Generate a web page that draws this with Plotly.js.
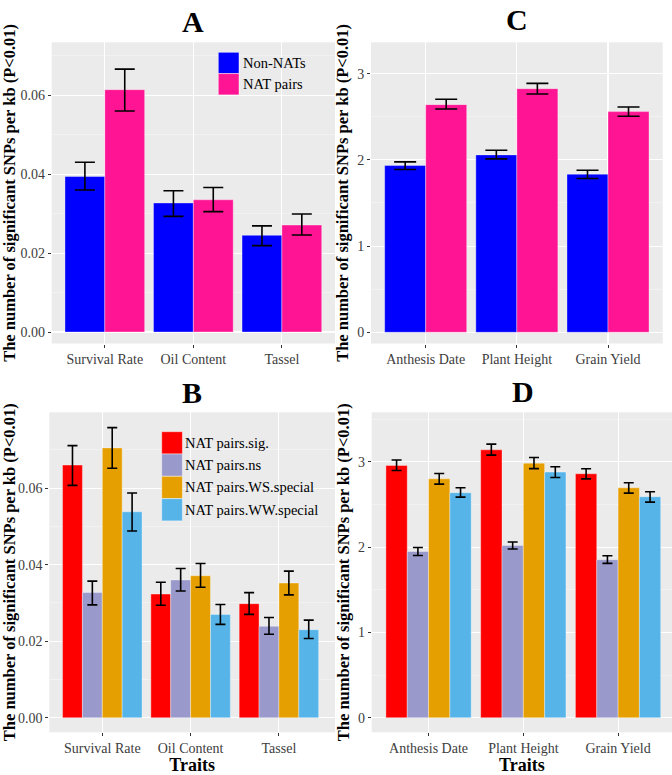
<!DOCTYPE html>
<html>
<head>
<meta charset="utf-8">
<script src="https://cdn.plot.ly/plotly-3.0.1.min.js"></script>
<style>html,body{margin:0;padding:0;background:#fff;}#chart{width:672px;height:775px;}</style>
</head>
<body>
<div id="chart"></div>
<script>
// ---------- data ----------
const traitsAB = ['Survival Rate', 'Oil Content', 'Tassel'];
const traitsCD = ['Anthesis Date', 'Plant Height', 'Grain Yield'];

// Panel A
const A_nonNATs    = [0.0394, 0.0327, 0.0245];
const A_nonNATs_lo = [0.0360, 0.0293, 0.0219];
const A_nonNATs_hi = [0.0430, 0.0358, 0.0269];
const A_natPairs    = [0.0614, 0.0335, 0.0271];
const A_natPairs_lo = [0.0560, 0.0305, 0.0246];
const A_natPairs_hi = [0.0666, 0.0366, 0.0299];

// Panel C
const C_nonNATs    = [1.934, 2.058, 1.834];
const C_nonNATs_lo = [1.888, 2.012, 1.784];
const C_nonNATs_hi = [1.977, 2.112, 1.880];
const C_natPairs    = [2.641, 2.826, 2.560];
const C_natPairs_lo = [2.591, 2.764, 2.506];
const C_natPairs_hi = [2.703, 2.888, 2.614];

// Panel B
const B_sig      = [0.0660, 0.0323, 0.0298];
const B_sig_lo   = [0.0607, 0.0294, 0.0270];
const B_sig_hi   = [0.0711, 0.0354, 0.0327];
const B_ns       = [0.0327, 0.0360, 0.0239];
const B_ns_lo    = [0.0295, 0.0331, 0.0218];
const B_ns_hi    = [0.0357, 0.0390, 0.0262];
const B_ws       = [0.0705, 0.0371, 0.0352];
const B_ws_lo    = [0.0652, 0.0341, 0.0321];
const B_ws_hi    = [0.0758, 0.0403, 0.0383];
const B_ww       = [0.0538, 0.0270, 0.0230];
const B_ww_lo    = [0.0488, 0.0244, 0.0207];
const B_ww_hi    = [0.0587, 0.0296, 0.0255];

// Panel D
const D_sig      = [2.957, 3.140, 2.859];
const D_sig_lo   = [2.898, 3.078, 2.800];
const D_sig_hi   = [3.020, 3.207, 2.918];
const D_ns       = [1.949, 2.020, 1.852];
const D_ns_lo    = [1.902, 1.977, 1.809];
const D_ns_hi    = [1.996, 2.059, 1.898];
const D_ws       = [2.800, 2.984, 2.695];
const D_ws_lo    = [2.738, 2.920, 2.633];
const D_ws_hi    = [2.863, 3.050, 2.754];
const D_ww       = [2.637, 2.879, 2.590];
const D_ww_lo    = [2.586, 2.816, 2.527];
const D_ww_hi    = [2.695, 2.941, 2.648];

const namesAC = ['Non-NATs', 'NAT pairs'];
const colorsAC = ['#0000FF', '#FF1493'];
const namesBD = ['NAT pairs.sig.', 'NAT pairs.ns', 'NAT pairs.WS.special', 'NAT pairs.WW.special'];
const colorsBD = ['#FF0000', '#9999CC', '#E69F00', '#56B4E9'];

const yTitle = 'The number of significant SNPs per kb (P<0.01)';
const xTitle = 'Traits';

// ---------- build ----------
const SERIF = 'Liberation Serif';

function barTrace(x, y, lo, hi, name, color, xa, ya, capw) {
  return {
    type: 'bar', x: x, y: y, name: name, xaxis: xa, yaxis: ya, showlegend: false,
    marker: {color: color, line: {color: 'rgba(255,255,255,0.35)', width: 1}},
    error_y: {
      type: 'data', symmetric: false,
      array: y.map((v, i) => hi[i] - v),
      arrayminus: y.map((v, i) => v - lo[i]),
      color: '#000000', thickness: 1.6, width: capw
    },
    hoverinfo: 'x+y+name'
  };
}

const traces = [
  barTrace(traitsAB, A_nonNATs, A_nonNATs_lo, A_nonNATs_hi, namesAC[0], colorsAC[0], 'x', 'y', 10),
  barTrace(traitsAB, A_natPairs, A_natPairs_lo, A_natPairs_hi, namesAC[1], colorsAC[1], 'x', 'y', 10),
  barTrace(traitsCD, C_nonNATs, C_nonNATs_lo, C_nonNATs_hi, namesAC[0], colorsAC[0], 'x2', 'y2', 11),
  barTrace(traitsCD, C_natPairs, C_natPairs_lo, C_natPairs_hi, namesAC[1], colorsAC[1], 'x2', 'y2', 11),
  barTrace(traitsAB, B_sig, B_sig_lo, B_sig_hi, namesBD[0], colorsBD[0], 'x3', 'y3', 5),
  barTrace(traitsAB, B_ns, B_ns_lo, B_ns_hi, namesBD[1], colorsBD[1], 'x3', 'y3', 5),
  barTrace(traitsAB, B_ws, B_ws_lo, B_ws_hi, namesBD[2], colorsBD[2], 'x3', 'y3', 5),
  barTrace(traitsAB, B_ww, B_ww_lo, B_ww_hi, namesBD[3], colorsBD[3], 'x3', 'y3', 5),
  barTrace(traitsCD, D_sig, D_sig_lo, D_sig_hi, namesBD[0], colorsBD[0], 'x4', 'y4', 5),
  barTrace(traitsCD, D_ns, D_ns_lo, D_ns_hi, namesBD[1], colorsBD[1], 'x4', 'y4', 5),
  barTrace(traitsCD, D_ws, D_ws_lo, D_ws_hi, namesBD[2], colorsBD[2], 'x4', 'y4', 5),
  barTrace(traitsCD, D_ww, D_ww_lo, D_ww_hi, namesBD[3], colorsBD[3], 'x4', 'y4', 5)
];

const W = 672, H = 775;
const tickFont = {family: SERIF, size: 14, color: '#3D3D3D'};

function xAxis(dom, anchor, range, title) {
  const ax = {
    domain: dom, anchor: anchor, type: 'category', range: range,
    showgrid: true, gridcolor: '#FFFFFF', gridwidth: 1.1,
    zeroline: false, showline: false,
    ticks: 'outside', ticklen: 3, tickwidth: 1, tickcolor: '#333333',
    tickfont: tickFont, automargin: false, fixedrange: true
  };
  if (title) ax.title = {text: '<b>' + title + '</b>', font: {family: SERIF, size: 18, color: '#000'}, standoff: 2};
  return ax;
}
function yAxis(dom, anchor, range, dtick, minorDtick, fmt) {
  return {
    domain: dom, anchor: anchor, range: range, dtick: dtick, tick0: 0, tickformat: fmt,
    showgrid: true, gridcolor: '#FFFFFF', gridwidth: 1.1,
    minor: {dtick: minorDtick, tick0: 0, showgrid: true, gridcolor: '#F6F6F6', gridwidth: 0.6, ticks: ''},
    zeroline: false, showline: false,
    ticks: 'outside', ticklen: 3, tickwidth: 1, tickcolor: '#333333',
    tickfont: tickFont, automargin: false, fixedrange: true,
    title: {text: '<b>' + yTitle.replace('<', '&lt;') + '</b>', font: {family: SERIF, size: 16.5, color: '#000'}, standoff: 4}
  };
}

const domA = {x: [51.7 / W, 335 / W], y: [1 - 343.5 / H, 1 - 42.3 / H]};
const domC = {x: [371 / W, 662.7 / W], y: [1 - 343.5 / H, 1 - 42.3 / H]};
const domB = {x: [49.3 / W, 335 / W], y: [1 - 732.3 / H, 1 - 412.3 / H]};
const domD = {x: [371.7 / W, 1], y: [1 - 732.3 / H, 1 - 412.3 / H]};

const shapes = [];
const annotations = [];

function panelTitle(txt, dom, ypx) {
  annotations.push({
    text: '<b>' + txt + '</b>', xref: 'paper', yref: 'paper',
    x: (dom.x[0] + dom.x[1]) / 2, y: 1 - ypx / H, xanchor: 'center', yanchor: 'middle',
    showarrow: false, font: {family: SERIF, size: 30, color: '#000'}
  });
}
panelTitle('A', domA, 21);
panelTitle('B', domB, 392);
panelTitle('C', {x: [371 / W, 662.7 / W]}, 20);
panelTitle('D', {x: [371.7 / W, 674.8 / W]}, 391);

// legend keys (drawn inside panels A and B)
function legendBlock(names, colors, x0px, y0px, keyW, keyH, textX) {
  names.forEach((n, i) => {
    const top = y0px + i * keyH;
    shapes.push({
      type: 'rect', xref: 'paper', yref: 'paper', layer: 'above',
      x0: x0px / W, x1: (x0px + keyW) / W, y0: 1 - (top + keyH) / H, y1: 1 - top / H,
      fillcolor: colors[i], line: {color: 'rgba(255,255,255,0.45)', width: 1}
    });
    annotations.push({
      text: n, xref: 'paper', yref: 'paper', x: textX / W, y: 1 - (top + keyH / 2) / H,
      xanchor: 'left', yanchor: 'middle', showarrow: false,
      font: {family: SERIF, size: 14.5, color: '#000'}
    });
  });
}
legendBlock(namesAC, colorsAC, 218.3, 52.3, 20.7, 21.3, 240.5);
legendBlock(namesBD, colorsBD, 161.7, 431.7, 20.7, 22.3, 183.5);

const layout = {
  width: W, height: H,
  margin: {l: 0, r: 0, t: 0, b: 0},
  paper_bgcolor: '#FFFFFF', plot_bgcolor: '#EBEBEB',
  barmode: 'group', bargap: 0.1, bargroupgap: 0,
  showlegend: false,
  font: {family: SERIF},
  xaxis: xAxis(domA.x, 'y', [-0.6, 2.6]),
  yaxis: yAxis(domA.y, 'x', [-0.0029, 0.0734], 0.02, 0.01, '.2f'),
  xaxis2: xAxis(domC.x, 'y2', [-0.6, 2.6]),
  yaxis2: yAxis(domC.y, 'x2', [-0.13, 3.364], 1, 0.5, 'd'),
  xaxis3: xAxis(domB.x, 'y3', [-0.6, 2.635], xTitle),
  yaxis3: yAxis(domB.y, 'x3', [-0.0038, 0.0798], 0.02, 0.01, '.2f'),
  xaxis4: xAxis(domD.x, 'y4', [-0.6, 2.569], xTitle),
  yaxis4: yAxis(domD.y, 'x4', [-0.171, 3.58], 1, 0.5, 'd'),
  shapes: shapes,
  annotations: annotations
};

Plotly.newPlot('chart', traces, layout, {displayModeBar: false, staticPlot: true});
</script>
</body>
</html>
